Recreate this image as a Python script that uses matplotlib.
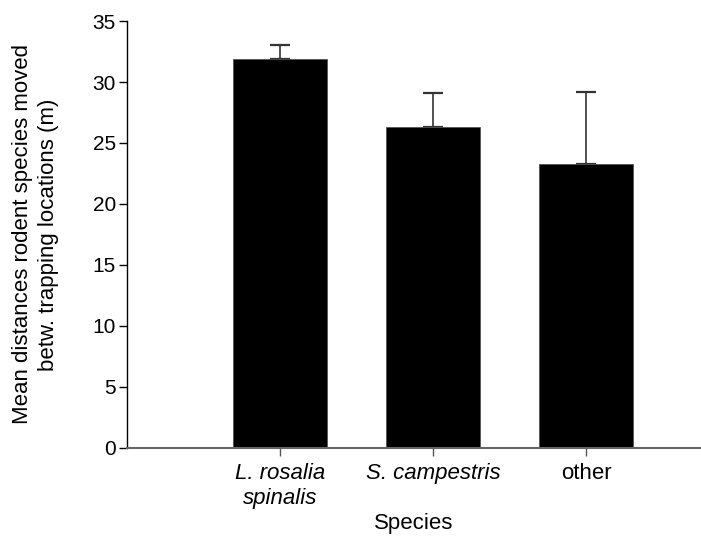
import matplotlib
matplotlib.use("Agg")
import matplotlib.pyplot as plt

species = ["L. rosalia\nspinalis", "S. campestris", "other"]
italic = [True, True, False]
means = [31.9, 26.35, 23.3]
errs = [1.1, 2.75, 5.85]
yticks = [0, 5, 10, 15, 20, 25, 30, 35]

plt.rcParams['font.family'] = ['Liberation Sans', 'DejaVu Sans']

fig = plt.figure(figsize=(7.01, 5.39), dpi=100)
ax = fig.add_axes([0.181, 0.169, 0.819, 0.792])

x = list(range(len(species)))
ax.bar(x, means, width=0.61, color='black', edgecolor='#555555', linewidth=0.6, zorder=2)
ax.errorbar(x, means, yerr=[[0] * len(errs), errs], fmt='none', ecolor='#333333',
            elinewidth=1.2, capsize=7, capthick=1.6, zorder=1)

ax.set_xlim(-1.0, 0.75 + x[-1])
ax.set_ylim(0, 35)
ax.set_yticks(yticks)
ax.set_xticks(x)
ax.set_xticklabels(species, fontsize=16, linespacing=1.25)
for lab, it in zip(ax.get_xticklabels(), italic):
    if it:
        lab.set_style('italic')
ax.tick_params(axis='y', labelsize=15, length=6, width=1, pad=2)
ax.tick_params(axis='x', length=6, width=1, color='#555555', pad=5)

ax.spines['top'].set_visible(False)
ax.spines['right'].set_visible(False)
ax.spines['bottom'].set_color('#666666')
ax.spines['bottom'].set_linewidth(1.5)
ax.spines['left'].set_linewidth(1)

ax.set_xlabel("Species", fontsize=16, labelpad=3)
ax.set_ylabel("Mean distances rodent species moved\nbetw. trapping locations (m)", fontsize=16,
              labelpad=24, linespacing=1.3)

fig.savefig("out.png", dpi=100)
